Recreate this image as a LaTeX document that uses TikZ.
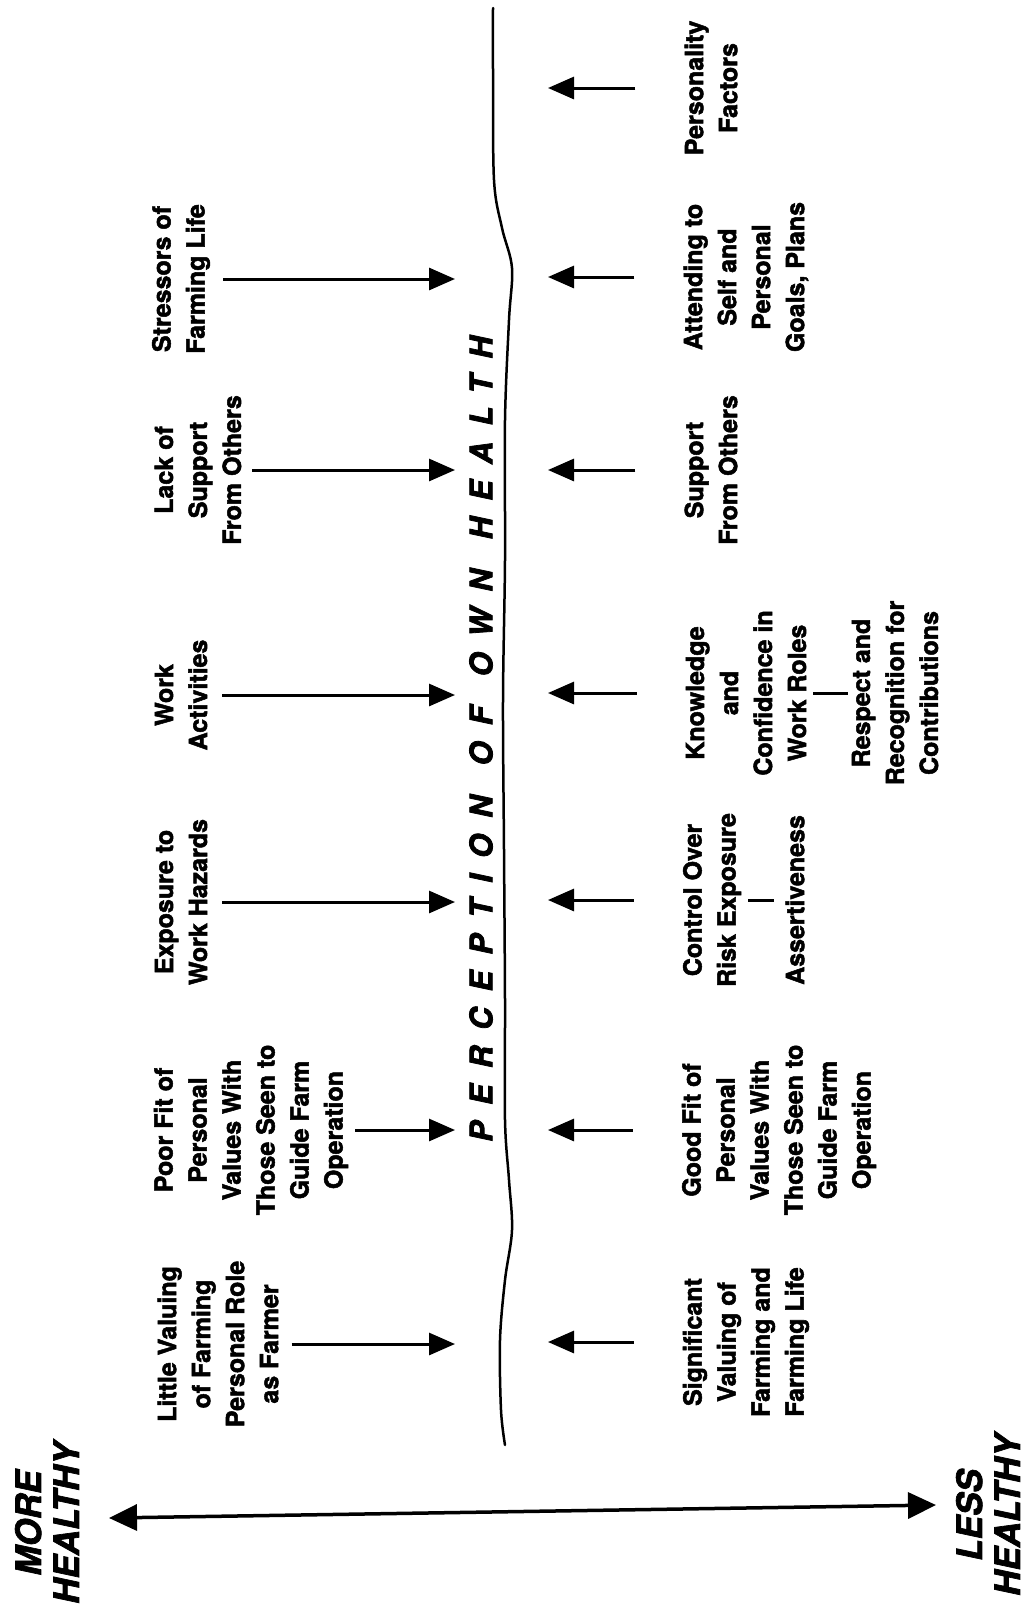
\documentclass[tikz,border=0pt]{standalone}
\usepackage{fontspec}
\setmainfont{TeX Gyre Heros}
\newfontfamily\heavyfont[FakeBold=2]{TeX Gyre Heros Bold}
\newfontfamily\heavyitfont[FakeBold=2]{TeX Gyre Heros Bold Italic}
\newfontfamily\spacedfont[FakeBold=2.5,LetterSpace=52]{TeX Gyre Heros Bold Italic}
\usetikzlibrary{arrows.meta}

\begin{document}
\begin{tikzpicture}[x=1pt, y=-1pt,
  cause/.style={rotate=90, align=center, inner sep=1pt,
                font=\heavyfont\fontsize{25}{34}\selectfont},
  pole/.style={rotate=90, align=center, inner sep=0pt,
               font=\heavyitfont\fontsize{35}{38}\selectfont},
  tag/.style={rotate=90, inner sep=0pt,
              font=\spacedfont\fontsize{31}{31}\selectfont},
  arrow/.style={-{Triangle[length=26pt,width=22pt]}, line width=3pt},
  axis/.style={{Triangle[length=28pt,width=26pt]}-{Triangle[length=28pt,width=26pt]}, line width=3.5pt},
  link/.style={line width=3pt},
  border/.style={line width=2.5pt, line cap=round}
]
\useasboundingbox (0,0) rectangle (1032,1622);

% --- Dividing line ---
\draw[border] plot[smooth, tension=0.55] coordinates {
  (493,8) (493,70) (494,180) (502,228) (512,268) (509,320) (505,420)
  (505,560) (503,700) (504,850) (505,1000) (505,1120) (509,1180)
  (512,1230) (505,1280) (500,1340) (501,1410) (505,1445)};

\node[tag] (title) at (481,739) {PERCEPTION\, OF\, OWN\, HEALTH};

% --- Left column ---
\node[cause] (l1) at (218,1344) {Little Valuing\\of Farming\\Personal Role\\as Farmer};
\node[cause] (l2) at (251,1130) {Poor Fit of\\Personal\\Values With\\Those Seen to\\Guide Farm\\Operation};
\node[cause] (l3) at (181,902) {Exposure to\\Work Hazards};
\node[cause] (l4) at (181,695) {Work\\Activities};
\node[cause] (l5) at (198,470) {Lack of\\Support\\From Others};
\node[cause] (l6) at (181,279) {Stressors of\\Farming Life};

% --- Right column ---
\node[cause] (r1) at (746,1342) {Significant\\Valuing of\\Farming and\\Farming Life};
\node[cause] (r2) at (779,1130) {Good Fit of\\Personal\\Values With\\Those Seen to\\Guide Farm\\Operation};
\node[cause] (r3) at (712,900) {Control Over\\Risk Exposure};
\node[cause] (r3b) at (795,900) {Assertiveness};
\node[cause] (r4) at (746,693) {Knowledge\\and\\Confidence in\\Work Roles};
\node[cause] (r4b) at (895,693) {Respect and\\Recognition for\\Contributions};
\node[cause] (r5) at (711,470) {Support\\From Others};
\node[cause] (r6) at (746,277) {Attending to\\Self and\\Personal\\Goals, Plans};
\node[cause] (r7) at (711,88) {Personality\\Factors};

% --- Arrow tips at the line ---
\coordinate (t1) at (455,1344);
\coordinate (t2) at (455,1130);
\coordinate (t3) at (455,902);
\coordinate (t4) at (455,695);
\coordinate (t5) at (455,470);
\coordinate (t6) at (455,279);
\coordinate (s1) at (548,1342);
\coordinate (s2) at (548,1130);
\coordinate (s3) at (548,900);
\coordinate (s4) at (548,693);
\coordinate (s5) at (548,470);
\coordinate (s6) at (548,277);
\coordinate (s7) at (548,88);

% --- Arrows ---
\draw[arrow, shorten <=12pt] (l1) -- (t1);
\draw[arrow, shorten <=6pt] (l2) -- (t2);
\draw[arrow, shorten <=14pt] (l3) -- (t3);
\draw[arrow, shorten <=14pt] (l4) -- (t4);
\draw[arrow, shorten <=10pt] (l5) -- (t5);
\draw[arrow, shorten <=12pt] (l6) -- (t6);
\draw[arrow, shorten <=48pt] (r1) -- (s1);
\draw[arrow, shorten <=48pt] (r2) -- (s2);
\draw[arrow, shorten <=48pt] (r3) -- (s3);
\draw[arrow, shorten <=48pt] (r4) -- (s4);
\draw[arrow, shorten <=48pt] (r5) -- (s5);
\draw[arrow, shorten <=48pt] (r6) -- (s6);
\draw[arrow, shorten <=48pt] (r7) -- (s7);

\draw[link, shorten <=6pt, shorten >=10pt] (r3) -- (r3b);
\draw[link, shorten <=6pt, shorten >=3pt] (r4) -- (r4b);

% --- Health scale ---
\node[pole] (more) at (47,1523) {MORE\\HEALTHY};
\node[pole] (less) at (988,1515) {LESS\\HEALTHY};
\coordinate (mh) at (109,1518);
\coordinate (lh) at (936,1505);
\draw[axis] (mh) -- (lh);

\end{tikzpicture}
\end{document}
